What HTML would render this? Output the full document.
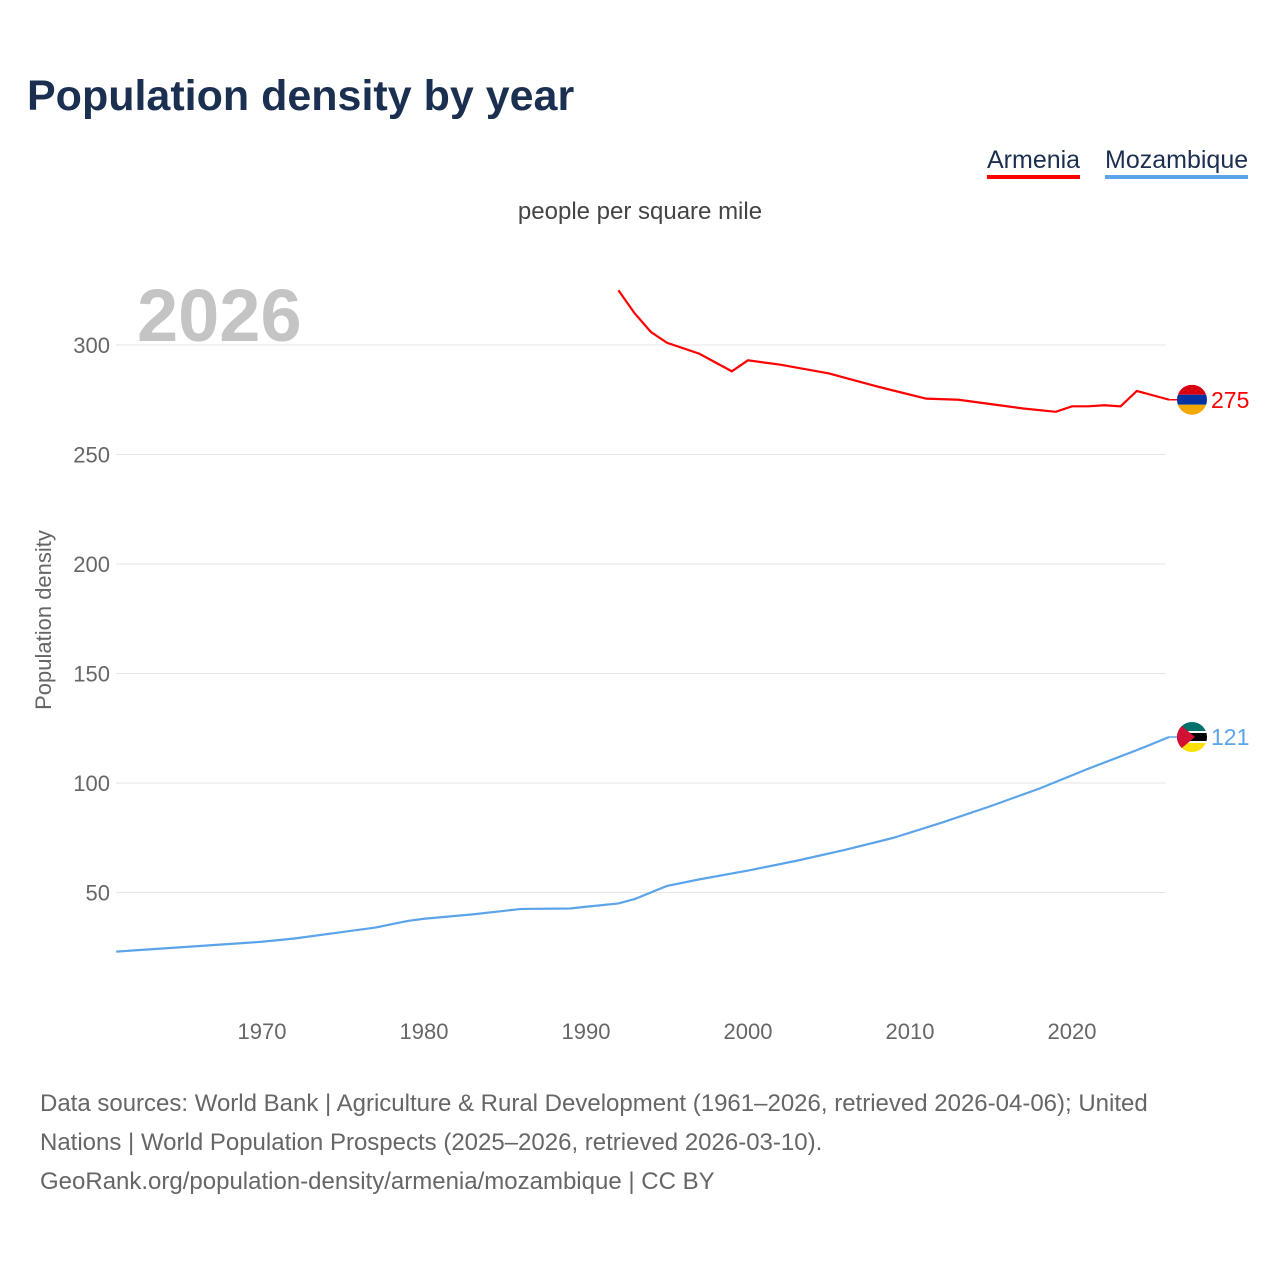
<!DOCTYPE html>
<html><head><meta charset="utf-8"><style>
body{margin:0;background:#fff;font-family:"Liberation Sans",sans-serif;}
#wrap{position:relative;width:1280px;height:1280px;overflow:hidden;}
.t{position:absolute;white-space:nowrap;}
</style></head><body>
<div id="wrap">
<div class="t" style="left:27px;top:72px;font-size:43px;font-weight:bold;color:#1b3050;">Population density by year</div>
<div class="t" style="left:987px;top:145px;font-size:25px;color:#1b3050;border-bottom:4px solid #ff0000;line-height:30px;">Armenia</div>
<div class="t" style="left:1105px;top:145px;font-size:25px;color:#1b3050;border-bottom:4px solid #5ba4ea;line-height:30px;">Mozambique</div>
<div class="t" style="left:0;width:1280px;text-align:center;top:198px;font-size:24px;color:#444;">people per square mile</div>
<div class="t" style="left:40px;top:1084px;font-size:24px;line-height:39px;color:#666;white-space:normal;width:1195px;">Data sources: World Bank | Agriculture &amp; Rural Development (1961–2026, retrieved 2026-04-06); United Nations | World Population Prospects (2025–2026, retrieved 2026-03-10).<br>GeoRank.org/population-density/armenia/mozambique | CC BY</div>
<svg id="plot" width="1280" height="1280" style="position:absolute;left:0;top:0"></svg>
</div>
<script>
const yTicks=[50,100,150,200,250,300];
const xTicks=[1970,1980,1990,2000,2010,2020];
const armYears=[1992,1993,1994,1995,1997,1999,2000,2002,2005,2008,2011,2013,2015,2017,2019,2020,2021,2022,2023,2024,2026];
const armVals=[325,314.5,306,301,296,288,293,291,287,281,275.5,275,273,271,269.5,272,272,272.5,272,279,275];
const mozYears=[1961,1965,1970,1972,1975,1977,1979,1980,1983,1986,1989,1990,1992,1993,1995,1997,2000,2003,2006,2009,2012,2015,2018,2021,2024,2026];
const mozVals=[23,25,27.5,29,32,34,37,38,40,42.5,42.7,43.5,45,47,53,56,60,64.5,69.5,75,82,89.5,97.5,106.5,115,121];
const NS="http://www.w3.org/2000/svg";
const svg=document.getElementById('plot');
const X=y=>116.2+(y-1961)*16.2;
const Y=v=>1002-v*2.19;
function mk(t,a){const e=document.createElementNS(NS,t);for(const k in a)e.setAttribute(k,a[k]);svg.appendChild(e);return e;}
const yr=mk('text',{x:137,y:341,'font-size':74,'font-weight':'bold',fill:'#c4c4c4','font-family':'Liberation Sans, sans-serif'});yr.textContent='2026';


yTicks.forEach(v=>{
 const l=mk('line',{x1:116,x2:1166,y1:Y(v),y2:Y(v),stroke:'#e6e6e6','stroke-width':1});
 
 
 const t=mk('text',{x:110,y:Y(v)+8,'text-anchor':'end','font-size':22,fill:'#666','font-family':'Liberation Sans, sans-serif'});t.textContent=v;
 
 
});
xTicks.forEach(v=>{
 const t=mk('text',{x:X(v),y:1039,'text-anchor':'middle','font-size':22,fill:'#666','font-family':'Liberation Sans, sans-serif'});t.textContent=v;
 
 
});
const yt=mk('text',{transform:'translate(51,620) rotate(-90)','text-anchor':'middle','font-size':22,fill:'#666','font-family':'Liberation Sans, sans-serif'});yt.textContent='Population density';


function line(years,vals,color,name){
 const p=mk('polyline',{points:years.map((y,i)=>X(y)+','+Y(vals[i])).join(' '),fill:'none',stroke:color,'stroke-width':2.2});
 
 
 const lx=X(years[years.length-1]),ly=Y(vals[vals.length-1]);
 mk('line',{x1:lx,x2:1180,y1:ly,y2:ly,stroke:color,'stroke-width':1.5});
 const t=mk('text',{x:1211,y:ly+8,'font-size':23,fill:color,'font-family':'Liberation Sans, sans-serif'});t.textContent=Math.round(vals[vals.length-1]);
 
 
 return ly;
}
const ay=line(armYears,armVals,'#ff0000','armenia');
const my=line(mozYears,mozVals,'#5ba4ea','mozambique');
const d=mk('defs',{});
d.innerHTML='<clipPath id="ca"><circle cx="1192" cy="'+ay+'" r="15"/></clipPath><clipPath id="cm"><circle cx="1192" cy="'+my+'" r="15"/></clipPath>';
const fa=mk('g',{'clip-path':'url(#ca)'});


fa.innerHTML='<rect x="1177" y="'+(ay-15)+'" width="30" height="10" fill="#d90012"/><rect x="1177" y="'+(ay-5)+'" width="30" height="10" fill="#0033a0"/><rect x="1177" y="'+(ay+5)+'" width="30" height="10" fill="#f2a800"/>';
const fm=mk('g',{'clip-path':'url(#cm)'});


fm.innerHTML='<rect x="1177" y="'+(my-15)+'" width="30" height="10" fill="#007168"/><rect x="1177" y="'+(my-5)+'" width="30" height="10" fill="#000"/><rect x="1177" y="'+(my-6)+'" width="30" height="2" fill="#fff"/><rect x="1177" y="'+(my+4)+'" width="30" height="2" fill="#fff"/><rect x="1177" y="'+(my+6)+'" width="30" height="9" fill="#fce100"/><polygon points="1177,'+(my-15)+' 1195,'+my+' 1177,'+(my+15)+'" fill="#d21034"/>';
</script>
</body></html>
